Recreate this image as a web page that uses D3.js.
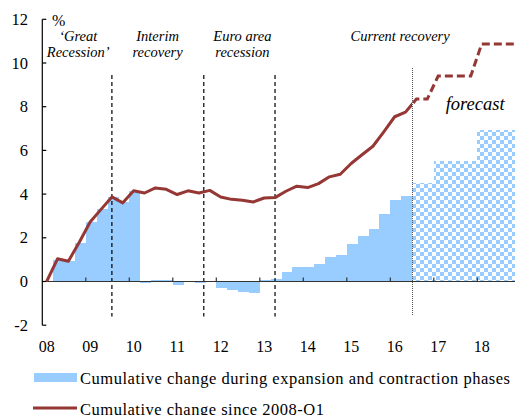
<!DOCTYPE html>
<html>
<head>
<meta charset="utf-8">
<script src="https://cdn.jsdelivr.net/npm/d3@7"></script>
<style>
  body { margin: 0; background: #fff; }
  svg text { font-family: "Times New Roman", Times, "Liberation Serif", "DejaVu Serif", serif; }
</style>
</head>
<body>
<svg width="515" height="415"></svg>
<script>
// quarterly data, 2008-Q1 = index 0
var lineActual = [0, 1.04, 0.93, 1.8, 2.72, 3.3, 3.87, 3.6, 4.15, 4.05, 4.28, 4.22, 3.98, 4.15, 4.05, 4.17,
  3.87, 3.76, 3.72, 3.64, 3.82, 3.84, 4.13, 4.36, 4.3, 4.48, 4.79, 4.91, 5.4, 5.8, 6.19, 6.85, 7.54, 7.75];
var lineForecast = [8.35, 8.35, 9.4, 9.4, 9.4, 9.4, 10.87, 10.87, 10.87, 10.87];

var barsActual = [0, 1.0, 0.95, 1.78, 2.72, 3.3, 3.85, 3.62, 4.15, -0.05, 0.08, 0.06, -0.15, 0.0, -0.05, 0.0,
  -0.29, -0.38, -0.46, -0.52, 0.07, 0.13, 0.45, 0.68, 0.65, 0.8, 1.1, 1.23, 1.7, 2.06, 2.42, 3.08, 3.75, 3.92];
var barsForecast = [4.53, 4.53, 5.5, 5.5, 5.5, 5.5, 6.95, 6.95, 6.95, 6.95];

var years = [2008, 2009, 2010, 2011, 2012, 2013, 2014, 2015, 2016, 2017, 2018];
var yTicks = [-2, 0, 2, 4, 6, 8, 10, 12];
var phaseBreaks = [6.4, 14.85, 21.4]; // in quarters since 2008-Q1
var forecastStart = 34;

var svg = d3.select("svg"),
    width = +svg.attr("width"),
    height = +svg.attr("height");

var x = d3.scaleLinear().domain([0, 44]).range([42.3, 42.3 + 44 * 10.875]); // quarters
var y = d3.scaleLinear().domain([-2, 12]).range([325.2, 19.3]);
var red = "#953735", blue = "#99ccff";

// checker pattern for forecast bars
var defs = svg.append("defs");
var pat = defs.append("pattern")
    .attr("id", "checker").attr("patternUnits", "userSpaceOnUse")
    .attr("width", 8).attr("height", 8);
pat.append("rect").attr("width", 8).attr("height", 8).attr("fill", "#fff");
pat.append("rect").attr("width", 4).attr("height", 4).attr("fill", blue);
pat.append("rect").attr("x", 4).attr("y", 4).attr("width", 4).attr("height", 4).attr("fill", blue);

defs.append("clipPath").attr("id", "clipL").append("rect")
    .attr("x", 0).attr("y", 0).attr("width", x(forecastStart)).attr("height", height);
defs.append("clipPath").attr("id", "clipR").append("rect")
    .attr("x", x(forecastStart)).attr("y", 0).attr("width", width).attr("height", height);

// bars
var bars = barsActual.map(function(v, i) { return {q: i, v: v, f: false}; })
  .concat(barsForecast.map(function(v, i) { return {q: forecastStart + i, v: v, f: true}; }));

svg.append("g").selectAll("rect")
  .data(bars)
  .enter().append("rect")
    .attr("x", function(d) { return x(d.q); })
    .attr("width", function(d) { return x(d.q + 1) - x(d.q) + 0.3; })
    .attr("y", function(d) { return y(Math.max(0, d.v)); })
    .attr("height", function(d) { return Math.abs(y(d.v) - y(0)); })
    .attr("fill", function(d) { return d.f ? "url(#checker)" : blue; })
    .attr("shape-rendering", "crispEdges");

// phase lines
svg.append("g").selectAll("line")
  .data(phaseBreaks)
  .enter().append("line")
    .attr("x1", function(d) { return x(d); }).attr("x2", function(d) { return x(d); })
    .attr("y1", y(9.45)).attr("y2", y(-1.6))
    .attr("stroke", "#000").attr("stroke-width", 1.2).attr("stroke-dasharray", "4,3");

svg.append("line")
    .attr("x1", x(forecastStart)).attr("x2", x(forecastStart))
    .attr("y1", y(9.75)).attr("y2", y(-1.6))
    .attr("stroke", "#555").attr("stroke-width", 1).attr("stroke-dasharray", "1,1")
    .attr("shape-rendering", "crispEdges");

// axes
var ax = svg.append("g").attr("stroke", "#333").attr("stroke-width", 1.2);
ax.append("line").attr("x1", x(0)).attr("x2", width).attr("y1", y(0)).attr("y2", y(0));
ax.selectAll(".xt").data(years.slice(1)).enter().append("line")
    .attr("x1", function(d) { return x((d - 2008) * 4); })
    .attr("x2", function(d) { return x((d - 2008) * 4); })
    .attr("y1", y(0)).attr("y2", y(0) - 4);
ax.append("line").attr("x1", x(0)).attr("x2", x(0)).attr("y1", y(-2)).attr("y2", y(12)).attr("stroke", "#000");
ax.selectAll(".yt").data(yTicks).enter().append("line")
    .attr("x1", x(0)).attr("x2", x(0) + 4)
    .attr("y1", function(d) { return y(d); }).attr("y2", function(d) { return y(d); })
    .attr("stroke", "#000");

svg.append("g").selectAll("text").data(yTicks).enter().append("text")
    .attr("x", 28).attr("y", function(d) { return y(d) + 5.5; })
    .attr("text-anchor", "end").attr("font-size", 16.5)
    .text(function(d) { return d; });

svg.append("g").selectAll("text").data(years).enter().append("text")
    .attr("x", function(d) { return x((d - 2008) * 4) + 4.5; })
    .attr("y", 352).attr("text-anchor", "middle").attr("font-size", 16)
    .text(function(d) { return String(d).slice(2); });

svg.append("text").attr("x", 52).attr("y", 26).attr("font-size", 16).text("%");

// line: actual solid, forecast dashed
var line = d3.line()
    .x(function(d) { return x(d.q + 0.4); })
    .y(function(d) { return y(d.v); });
var allLine = lineActual.map(function(v, i) { return {q: i, v: v}; })
  .concat(lineForecast.map(function(v, i) { return {q: forecastStart + i, v: v}; }));

svg.append("path").datum(allLine.slice(0, forecastStart + 1))
    .attr("d", line).attr("fill", "none").attr("stroke", red).attr("stroke-width", 3)
    .attr("stroke-linejoin", "round").attr("clip-path", "url(#clipL)");
svg.append("path").datum(allLine.slice(forecastStart - 1))
    .attr("d", line).attr("fill", "none").attr("stroke", red).attr("stroke-width", 3)
    .attr("stroke-dasharray", "8,4").attr("clip-path", "url(#clipR)");

// phase labels
var labels = [
  {q: 3.3, lines: ["\u2018Great", "Recession\u2019"]},
  {q: 10.6, lines: ["Interim", "recovery"]},
  {q: 18.4, lines: ["Euro area", "recession"]},
  {q: 32.9, lines: ["Current recovery"]}
];
labels.forEach(function(l) {
  l.lines.forEach(function(s, j) {
    svg.append("text").attr("x", x(l.q)).attr("y", 41 + j * 16)
      .attr("text-anchor", "middle").attr("font-size", 14.5).attr("font-style", "italic")
      .text(s);
  });
});
svg.append("text").attr("x", x(39.8)).attr("y", 110)
    .attr("text-anchor", "middle").attr("font-size", 18.5).attr("font-style", "italic")
    .text("forecast");

// legend
var lg = svg.append("g");
lg.append("rect").attr("x", 34).attr("y", 373).attr("width", 43).attr("height", 9).attr("fill", blue);
lg.append("text").attr("x", 80).attr("y", 384).attr("font-size", 16.5)
    .attr("textLength", 430).attr("lengthAdjust", "spacing")
    .text("Cumulative change during expansion and contraction phases");
lg.append("line").attr("x1", 33).attr("x2", 77).attr("y1", 408).attr("y2", 408)
    .attr("stroke", red).attr("stroke-width", 3);
lg.append("text").attr("x", 80).attr("y", 415).attr("font-size", 16.5)
    .attr("textLength", 244).attr("lengthAdjust", "spacing")
    .text("Cumulative change since 2008-Q1");
</script>
</body>
</html>
